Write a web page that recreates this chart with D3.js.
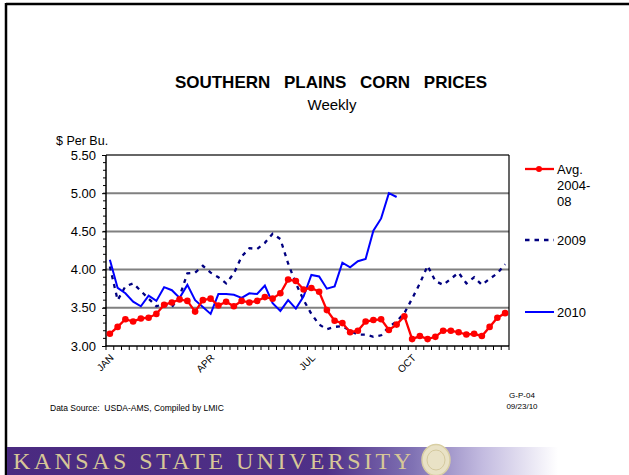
<!DOCTYPE html>
<meta charset="utf-8">
<style>
body { margin: 0; padding: 0; background: #fff; }
svg { display: block; font-family: Arial, "Liberation Sans", sans-serif; }
</style>
<body>
<svg id="chart" width="629" height="475"></svg>
<script src="https://cdnjs.cloudflare.com/ajax/libs/d3/7.8.5/d3.min.js"></script>
<script>

// weekly prices, $ per bushel (week 0 = first week of Jan)
var avg0408 = [3.16, 3.25, 3.35, 3.32, 3.36, 3.37, 3.42, 3.54, 3.57, 3.61, 3.59, 3.45, 3.60, 3.62, 3.53, 3.58,
               3.52, 3.59, 3.57, 3.59, 3.64, 3.62, 3.69, 3.87, 3.85, 3.74, 3.76, 3.71, 3.47, 3.33, 3.30, 3.18,
               3.20, 3.32, 3.34, 3.35, 3.21, 3.28, 3.39, 3.09, 3.13, 3.09, 3.12, 3.20, 3.20, 3.18, 3.15, 3.16,
               3.13, 3.25, 3.37, 3.43];
var y2009 = [4.04, 3.60, 3.78, 3.82, 3.72, 3.62, 3.52, 3.55, 3.51, 3.65, 3.95, 3.96, 4.05, 3.96, 3.90, 3.82,
             3.95, 4.17, 4.28, 4.27, 4.35, 4.47, 4.40, 4.08, 3.82, 3.60, 3.42, 3.28, 3.22, 3.25, 3.26, 3.20,
             3.15, 3.15, 3.12, 3.14, 3.25, 3.32, 3.43, 3.62, 3.82, 4.05, 3.85, 3.80, 3.88, 3.96, 3.82, 3.90,
             3.80, 3.88, 3.95, 4.07];
var y2010 = [4.13, 3.76, 3.69, 3.58, 3.52, 3.66, 3.59, 3.77, 3.73, 3.63, 3.80, 3.60, 3.51, 3.42, 3.68, 3.68,
             3.67, 3.63, 3.69, 3.68, 3.79, 3.56, 3.46, 3.60, 3.49, 3.65, 3.93, 3.91, 3.75, 3.78, 4.09, 4.03,
             4.11, 4.14, 4.51, 4.67, 5.00, 4.95];

var weeks = d3.range(52);
var monthLabels = ["JAN", "APR", "JUL", "OCT"];
var monthWeeks = [0, 13, 26, 39];
var yTicks = [3.00, 3.50, 4.00, 4.50, 5.00, 5.50];
var seriesNames = ["Avg. 2004-08", "2009", "2010"];

var svg = d3.select("#chart");

// slide frame
svg.append("line").attr("x1", 6).attr("y1", 4).attr("x2", 629).attr("y2", 4)
  .attr("stroke", "#000").attr("stroke-width", 2.5);
svg.append("line").attr("x1", 6).attr("y1", 3).attr("x2", 6).attr("y2", 475)
  .attr("stroke", "#000").attr("stroke-width", 2.5);

// titles
svg.append("text").attr("x", 331).attr("y", 88).attr("text-anchor", "middle")
  .style("font-size", "17px").style("font-weight", "bold").style("word-spacing", "9px")
  .text("SOUTHERN PLAINS CORN PRICES");
svg.append("text").attr("x", 332).attr("y", 110).attr("text-anchor", "middle")
  .style("font-size", "15px").text("Weekly");
svg.append("text").attr("x", 56).attr("y", 145)
  .style("font-size", "12.5px").text("$ Per Bu.");

var x = d3.scaleBand().domain(weeks).range([106, 509]);
var y = d3.scaleLinear().domain([3, 5.5]).range([346, 155]);
var cx = function(i) { return x(i) + x.bandwidth() / 2; };

// grid lines
svg.append("g").selectAll("line").data(yTicks.slice(1, 5)).join("line")
  .attr("x1", 106).attr("x2", 509)
  .attr("y1", function(d) { return y(d); }).attr("y2", function(d) { return y(d); })
  .attr("stroke", "#808080").attr("stroke-width", 2);

// y axis
var yAxis = d3.axisLeft(y).tickValues(yTicks).tickFormat(d3.format(".2f")).tickSize(4);
var gy = svg.append("g").attr("transform", "translate(106,0)").call(yAxis);
gy.select(".domain").remove();
gy.selectAll("text").style("font-size", "13px").style("font-family", "Arial, 'Liberation Sans', sans-serif")
  .attr("fill", "#000").attr("x", -10);
gy.selectAll("line").attr("stroke", "#000");
svg.append("g").selectAll("line").data(d3.range(3.1, 5.5, 0.1)).join("line")
  .attr("x1", 103).attr("x2", 106)
  .attr("y1", function(d) { return y(d); }).attr("y2", function(d) { return y(d); })
  .attr("stroke", "#000").attr("stroke-width", 1);

// x axis ticks at week boundaries
svg.append("g").selectAll("line").data(d3.range(53)).join("line")
  .attr("x1", function(d) { return 106 + d * x.step(); })
  .attr("x2", function(d) { return 106 + d * x.step(); })
  .attr("y1", 346).attr("y2", 350)
  .attr("stroke", "#000").attr("stroke-width", 1);
svg.append("g").selectAll("text").data(monthLabels).join("text")
  .attr("transform", function(d, i) { return "translate(" + (cx(monthWeeks[i]) + 2) + ",356) rotate(-45)"; })
  .attr("text-anchor", "end").attr("dy", "0.35em")
  .style("font-size", "10px").text(function(d) { return d; });

// plot frame
svg.append("line").attr("x1", 106).attr("x2", 509).attr("y1", 155).attr("y2", 155)
  .attr("stroke", "#333").attr("stroke-width", 1.5);
svg.append("line").attr("x1", 509).attr("x2", 509).attr("y1", 155).attr("y2", 346)
  .attr("stroke", "#000").attr("stroke-width", 1.2);
svg.append("line").attr("x1", 106).attr("x2", 106).attr("y1", 155).attr("y2", 346.5)
  .attr("stroke", "#000").attr("stroke-width", 1.5);
svg.append("line").attr("x1", 105.5).attr("x2", 509).attr("y1", 346).attr("y2", 346)
  .attr("stroke", "#000").attr("stroke-width", 1.5);

var line = d3.line().x(function(d, i) { return cx(i); }).y(function(d) { return y(d); });

svg.append("path").datum(y2009).attr("d", line)
  .attr("fill", "none").attr("stroke", "#000080").attr("stroke-width", 2.3)
  .attr("stroke-dasharray", "4,5");
svg.append("path").datum(y2010).attr("d", line)
  .attr("fill", "none").attr("stroke", "#0000ff").attr("stroke-width", 2);
svg.append("path").datum(avg0408).attr("d", line)
  .attr("fill", "none").attr("stroke", "#ff0000").attr("stroke-width", 2.3);
svg.append("g").selectAll("circle").data(avg0408).join("circle")
  .attr("cx", function(d, i) { return cx(i); }).attr("cy", function(d) { return y(d); })
  .attr("r", 3.3).attr("fill", "#ff0000");

// legend
var lg = svg.append("g").style("font-size", "13px");
lg.append("line").attr("x1", 525).attr("x2", 554).attr("y1", 169).attr("y2", 169)
  .attr("stroke", "#ff0000").attr("stroke-width", 2.3);
lg.append("circle").attr("cx", 539).attr("cy", 169).attr("r", 3).attr("fill", "#ff0000");
lg.append("text").attr("x", 557).attr("y", 174).text("Avg.");
lg.append("text").attr("x", 557).attr("y", 190).text("2004-");
lg.append("text").attr("x", 557).attr("y", 206).text("08");
lg.append("line").attr("x1", 525).attr("x2", 554).attr("y1", 240).attr("y2", 240)
  .attr("stroke", "#000080").attr("stroke-width", 2.3).attr("stroke-dasharray", "4.5,5");
lg.append("text").attr("x", 557).attr("y", 245).text(seriesNames[1]);
lg.append("line").attr("x1", 525).attr("x2", 554).attr("y1", 312).attr("y2", 312)
  .attr("stroke", "#0000ff").attr("stroke-width", 2);
lg.append("text").attr("x", 557).attr("y", 317).text(seriesNames[2]);

// footnotes
svg.append("text").attr("x", 50).attr("y", 411).style("font-size", "8.5px")
  .attr("xml:space", "preserve").text("Data Source:  USDA-AMS, Compiled by LMIC");
svg.append("text").attr("x", 522).attr("y", 398).attr("text-anchor", "middle")
  .style("font-size", "8px").text("G-P-04");
svg.append("text").attr("x", 522).attr("y", 409).attr("text-anchor", "middle")
  .style("font-size", "8px").text("09/23/10");

// university banner
var defs = svg.append("defs");
var grad = defs.append("linearGradient").attr("id", "band");
grad.append("stop").attr("offset", "0").attr("stop-color", "#4a2a80");
grad.append("stop").attr("offset", "0.55").attr("stop-color", "#4f3088");
grad.append("stop").attr("offset", "0.7").attr("stop-color", "#8072b4");
grad.append("stop").attr("offset", "0.82").attr("stop-color", "#c3bbe0");
grad.append("stop").attr("offset", "0.95").attr("stop-color", "#ffffff");
svg.append("rect").attr("x", 7).attr("y", 447).attr("width", 580).attr("height", 28)
  .attr("fill", "url(#band)");
svg.append("text").attr("x", 13).attr("y", 469)
  .attr("textLength", 398).attr("lengthAdjust", "spacing")
  .style("font-family", "'Liberation Serif', 'DejaVu Serif', serif").style("font-size", "24px")
  .attr("fill", "#d7c797").text("KANSAS STATE UNIVERSITY");
svg.append("ellipse").attr("cx", 436).attr("cy", 460).attr("rx", 14).attr("ry", 15.5)
  .attr("fill", "#e9e2c6").attr("stroke", "#d9cfa4").attr("stroke-width", 1.5);
svg.append("ellipse").attr("cx", 436).attr("cy", 460).attr("rx", 9).attr("ry", 10)
  .attr("fill", "none").attr("stroke", "#d4c99e").attr("stroke-width", 1);

</script>
</body>
